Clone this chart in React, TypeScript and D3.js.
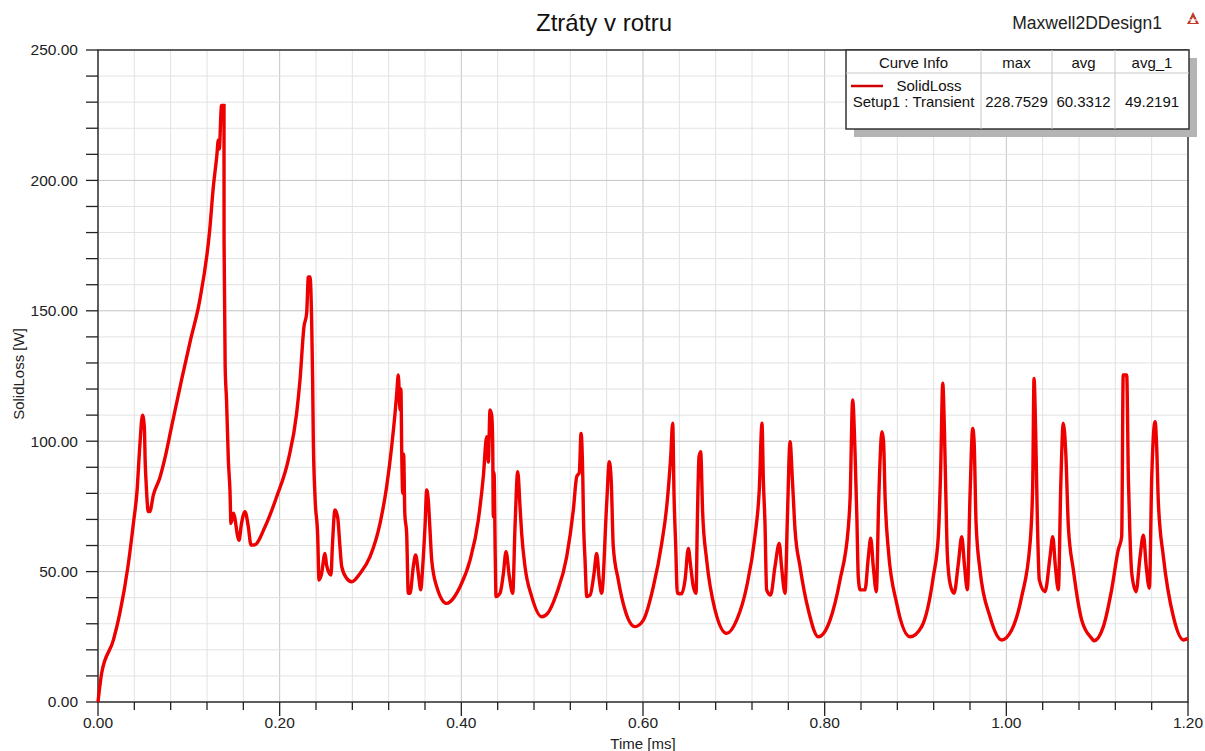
import * as d3 from 'd3';
import { useEffect } from 'react';

// SolidLoss trace (time in ms, loss in W)
const times = [
  0, 0.004, 0.017, 0.024, 0.033, 0.039, 0.043, 0.046, 0.049, 0.051, 0.052, 0.053, 0.0554, 0.057, 0.061, 0.068,
  0.074, 0.081, 0.092, 0.102, 0.112, 0.123, 0.127, 0.1307, 0.1325, 0.1335, 0.136, 0.1387, 0.1388, 0.14, 0.1415,
  0.1435, 0.1453, 0.1464, 0.149, 0.1552, 0.158, 0.1618, 0.1655, 0.1684, 0.172, 0.1839, 0.1967, 0.2095, 0.2187,
  0.2224, 0.2268, 0.2297, 0.2316, 0.2334, 0.2352, 0.2363, 0.237, 0.2389, 0.2419, 0.2433, 0.246, 0.2499, 0.2517,
  0.2565, 0.258, 0.2609, 0.2639, 0.2664, 0.2683, 0.2738, 0.2793, 0.2885, 0.2995, 0.3105, 0.3178, 0.3233, 0.327,
  0.3289, 0.3306, 0.3325, 0.3335, 0.3344, 0.3355, 0.3365, 0.3378, 0.3398, 0.3416, 0.3435, 0.3471, 0.3497, 0.3527,
  0.3553, 0.3575, 0.36, 0.3619, 0.3637, 0.3655, 0.3674, 0.3729, 0.3839, 0.3875, 0.3986, 0.4096, 0.4187, 0.4242,
  0.4279, 0.4297, 0.4316, 0.4334, 0.4345, 0.4352, 0.436, 0.4374, 0.4382, 0.4426, 0.4463, 0.4492, 0.4529, 0.4566,
  0.4591, 0.4621, 0.4646, 0.4664, 0.4701, 0.4775, 0.4885, 0.495, 0.505, 0.516, 0.5233, 0.527, 0.5299, 0.5318,
  0.5337, 0.5345, 0.5362, 0.5381, 0.5418, 0.5461, 0.549, 0.5519, 0.5545, 0.56, 0.5629, 0.565, 0.5673, 0.5728,
  0.5802, 0.5912, 0.6004, 0.6114, 0.6206, 0.6261, 0.6305, 0.6327, 0.6342, 0.636, 0.6378, 0.6425, 0.6463, 0.6499,
  0.6525, 0.6554, 0.6584, 0.6598, 0.6617, 0.6635, 0.6657, 0.6701, 0.6793, 0.6921, 0.7031, 0.7141, 0.7232, 0.728,
  0.731, 0.7325, 0.7343, 0.7361, 0.7405, 0.7453, 0.75, 0.7525, 0.7564, 0.7589, 0.7619, 0.7645, 0.7674, 0.7729,
  0.782, 0.793, 0.8059, 0.8169, 0.8261, 0.828, 0.8308, 0.8335, 0.8355, 0.837, 0.839, 0.8444, 0.8481, 0.8507,
  0.8535, 0.8569, 0.8594, 0.8631, 0.8648, 0.8665, 0.8701, 0.8793, 0.894, 0.9068, 0.9196, 0.9251, 0.9277, 0.93,
  0.9318, 0.9336, 0.935, 0.938, 0.9424, 0.9472, 0.9509, 0.954, 0.9571, 0.9601, 0.963, 0.9645, 0.9667, 0.971,
  0.982, 0.9949, 1.0059, 1.0169, 1.0261, 1.029, 1.0305, 1.0322, 1.0341, 1.0363, 1.0426, 1.0481, 1.0511, 1.054,
  1.0573, 1.0599, 1.0627, 1.0655, 1.0683, 1.0738, 1.083, 1.094, 1.0965, 1.1068, 1.1159, 1.1232, 1.127, 1.1287,
  1.1325, 1.1344, 1.136, 1.1381, 1.1428, 1.1472, 1.1509, 1.154, 1.1575, 1.1601, 1.1638, 1.1655, 1.1674, 1.1729,
  1.1839, 1.195, 1.2,
];
const solidLoss = [
  0, 11, 23.8, 34, 52, 68.6, 81, 98, 110, 105.5, 91.6, 84, 73, 73, 79.4, 85.9,
  94, 105.6, 123.5, 139, 154, 181, 197.6, 209, 215.5, 212, 228.75, 228.7, 175.9, 128.6, 115.8,
  92.8, 81, 68.5, 72.4, 62, 68.5, 73, 67.2, 60.2, 60.2, 67.2, 78.7, 92.8, 110.7,
  123.5, 144, 149, 163, 163, 146.5, 123.5, 101.7, 78.7, 63.4, 46.8, 49, 57, 52.4,
  48.7, 59.5, 73.6, 70.7, 59.5, 51.9, 47.4, 46.1, 49.3, 55.7, 68.5, 82.6, 97.9, 110.7,
  118.4, 125.4, 112, 120, 95.4, 80, 95, 72, 64.7, 41.7, 41.7, 51.9, 56.4, 49.3,
  43, 52, 67.2, 81.3, 77, 66, 54.4, 44.2, 37.8, 38.4, 44.2, 54.4, 69.8, 86.4,
  101.7, 92, 112, 110, 100, 71, 88, 54.4, 40.4, 41.7, 49.3, 57.6, 48, 41.7,
  67.2, 88.3, 75, 64.7, 51.9, 40.4, 32.7, 34, 41.7, 55.7, 73.6, 86.4, 88, 103,
  86.4, 70, 54.4, 40.4, 41, 49.3, 57, 46.8, 41.7, 76, 92.1, 85, 59.5, 46.8,
  35.3, 28.9, 31.4, 44.2, 60.8, 74.9, 94, 106.9, 78.7, 60, 41.7, 41.5, 46.8, 58.9,
  52, 44.2, 41.7, 68.5, 94, 96, 72.3, 54.4, 35.3, 26.3, 31.4, 44.2, 63.4, 81.3,
  106.9, 85, 68.5, 43, 41, 51.9, 60.8, 52, 41.7, 69.8, 99.8, 85, 66, 51.9,
  35.3, 25, 31.4, 46.8, 67.2, 78, 115.8, 95, 70, 48, 43, 43, 55.7, 62.8,
  52, 42.3, 76.2, 103.6, 100, 78.7, 58.3, 37.8, 25, 28.9, 48, 63.4, 89, 122.2,
  105, 76.2, 57, 45.5, 41.7, 53.2, 63.4, 52, 43, 80, 104.9, 100, 68.5, 50.6,
  32.7, 23.8, 27.6, 40.4, 60.8, 82.6, 124.1, 105, 71, 46.8, 42.3, 55.7, 63.4, 52,
  43, 82.6, 106.9, 95, 67.2, 50.6, 31.4, 24.4, 23.5, 28.9, 43, 58.3, 63.4, 125.4,
  125.4, 85.1, 65, 49.3, 42.3, 55.7, 64, 52, 43.6, 86.4, 107.5, 98, 76.2, 55.7,
  32.7, 23.8, 24.4,
];

// legend table
const legendHeaders = ['Curve Info', 'max', 'avg', 'avg_1'];
const legendValues = ['228.7529', '60.3312', '49.2191'];
const seriesName = 'SolidLoss';
const setupName = 'Setup1 : Transient';

const xTicksMajor = [0, 0.2, 0.4, 0.6, 0.8, 1.0, 1.2];
const yTicksMajor = [0, 50, 100, 150, 200, 250];

export default function App() {
  useEffect(() => {
    document.body.style.margin = '0';
  }, []);

  const width = 1205;
  const height = 751;
  const margin = { top: 50, right: 17, bottom: 49, left: 98 };
  const innerWidth = width - margin.left - margin.right;
  const innerHeight = height - margin.top - margin.bottom;

  const xScale = d3.scaleLinear().domain([0, 1.2]).range([0, innerWidth]);
  const yScale = d3.scaleLinear().domain([0, 250]).range([innerHeight, 0]);

  const xMinor = d3.range(0, 1.2001, 0.04);
  const yMinor = d3.range(0, 250.01, 10);

  const points = times.map((t, i) => [t, solidLoss[i]] as [number, number]);
  // monotone keeps the spikes sharp but rounds the troughs like the solver output
  const line = d3.line<[number, number]>()
    .x(d => xScale(d[0]))
    .y(d => yScale(d[1]))
    .curve(d3.curveMonotoneX);

  const font = '"Liberation Sans", Arial, sans-serif';

  // legend geometry
  const lg = { x: 846, y: 50, w: 343, h: 79 };
  const colX = [846, 981, 1052, 1115, 1189];
  const headerH = 23;
  const colMid = (i: number) => (colX[i] + colX[i + 1]) / 2;

  return (
    <svg width={width} height={height} style={{ display: 'block', fontFamily: font, background: '#fff' }}>
      {/* title */}
      <text x={604} y={31} textAnchor="middle" fontSize={24} fill="#111">Ztráty v rotru</text>
      <text x={1162} y={29} textAnchor="end" fontSize={17.5} fill="#222">Maxwell2DDesign1</text>
      {/* small logo */}
      <g transform="translate(1193,19)">
        <path d="M0,-7 L6,5 L-6,5 Z" fill="#c0392b" />
        <path d="M0,-2 L3,4 L-3,4 Z" fill="#fff" />
        <line x1={-6} y1={1} x2={6} y2={1} stroke="#fff" strokeWidth={1} />
      </g>

      <g transform={`translate(${margin.left},${margin.top})`}>
        {/* grid */}
        {xMinor.map((t, i) => (
          <line key={'gx' + i} x1={xScale(t)} x2={xScale(t)} y1={0} y2={innerHeight}
            stroke={i % 5 === 0 ? '#c4c4c4' : '#e2e2e2'} strokeWidth={1} />
        ))}
        {yMinor.map((v, i) => (
          <line key={'gy' + i} x1={0} x2={innerWidth} y1={yScale(v)} y2={yScale(v)}
            stroke={i % 5 === 0 ? '#c4c4c4' : '#e2e2e2'} strokeWidth={1} />
        ))}

        {/* frame */}
        <rect x={0} y={0} width={innerWidth} height={innerHeight} fill="none" stroke="#333" strokeWidth={1.5} />

        {/* y ticks */}
        {yMinor.map((v, i) => (
          <line key={'ty' + i} x1={-12} x2={0} y1={yScale(v)} y2={yScale(v)} stroke="#222" strokeWidth={1.3} />
        ))}
        {yTicksMajor.map(v => (
          <text key={'ly' + v} x={-20} y={yScale(v)} dy="0.35em" textAnchor="end" fontSize={15.5} fill="#222">
            {v.toFixed(2)}
          </text>
        ))}

        {/* x ticks */}
        {xMinor.map((t, i) => (
          <line key={'tx' + i} x1={xScale(t)} x2={xScale(t)} y1={innerHeight}
            y2={innerHeight + (i % 5 === 0 ? 14 : 8)} stroke="#222" strokeWidth={1.3} />
        ))}
        {xTicksMajor.map(t => (
          <text key={'lx' + t} x={xScale(t)} y={innerHeight + 26} textAnchor="middle" fontSize={15.5} fill="#222">
            {t.toFixed(2)}
          </text>
        ))}

        {/* axis titles */}
        <text x={643 - margin.left} y={innerHeight + 47} textAnchor="middle" fontSize={15} fill="#222">
          Time [ms]
        </text>
        <text transform={`translate(${-74},${innerHeight / 2 - 2}) rotate(-90)`} textAnchor="middle"
          fontSize={15} fill="#222">
          SolidLoss [W]
        </text>

        {/* curve */}
        <path d={line(points) || ''} fill="none" stroke="#ee0000" strokeWidth={3.4} strokeLinejoin="miter" strokeMiterlimit={2} />
      </g>

      {/* legend table */}
      <rect x={lg.x + 8} y={lg.y + 8} width={lg.w} height={lg.h} fill="#b4b4b4" />
      <rect x={lg.x} y={lg.y} width={lg.w} height={lg.h} fill="#fff" stroke="#333" strokeWidth={1.5} />
      <line x1={lg.x} x2={lg.x + lg.w} y1={lg.y + headerH} y2={lg.y + headerH} stroke="#c8c8c8" />
      {colX.slice(1, 4).map(cx => (
        <line key={'c' + cx} x1={cx} x2={cx} y1={lg.y} y2={lg.y + lg.h} stroke="#c8c8c8" />
      ))}
      {legendHeaders.map((h, i) => (
        <text key={h} x={colMid(i)} y={lg.y + 18} textAnchor="middle" fontSize={15} fill="#111">{h}</text>
      ))}
      <line x1={851} x2={883} y1={86} y2={86} stroke="#d00000" strokeWidth={2.5} />
      <text x={929} y={91} textAnchor="middle" fontSize={15} fill="#111">{seriesName}</text>
      <text x={colMid(0)} y={107} textAnchor="middle" fontSize={15} fill="#111">{setupName}</text>
      {legendValues.map((v, i) => (
        <text key={v} x={colMid(i + 1)} y={107} textAnchor="middle" fontSize={15} fill="#111">{v}</text>
      ))}
    </svg>
  );
}
